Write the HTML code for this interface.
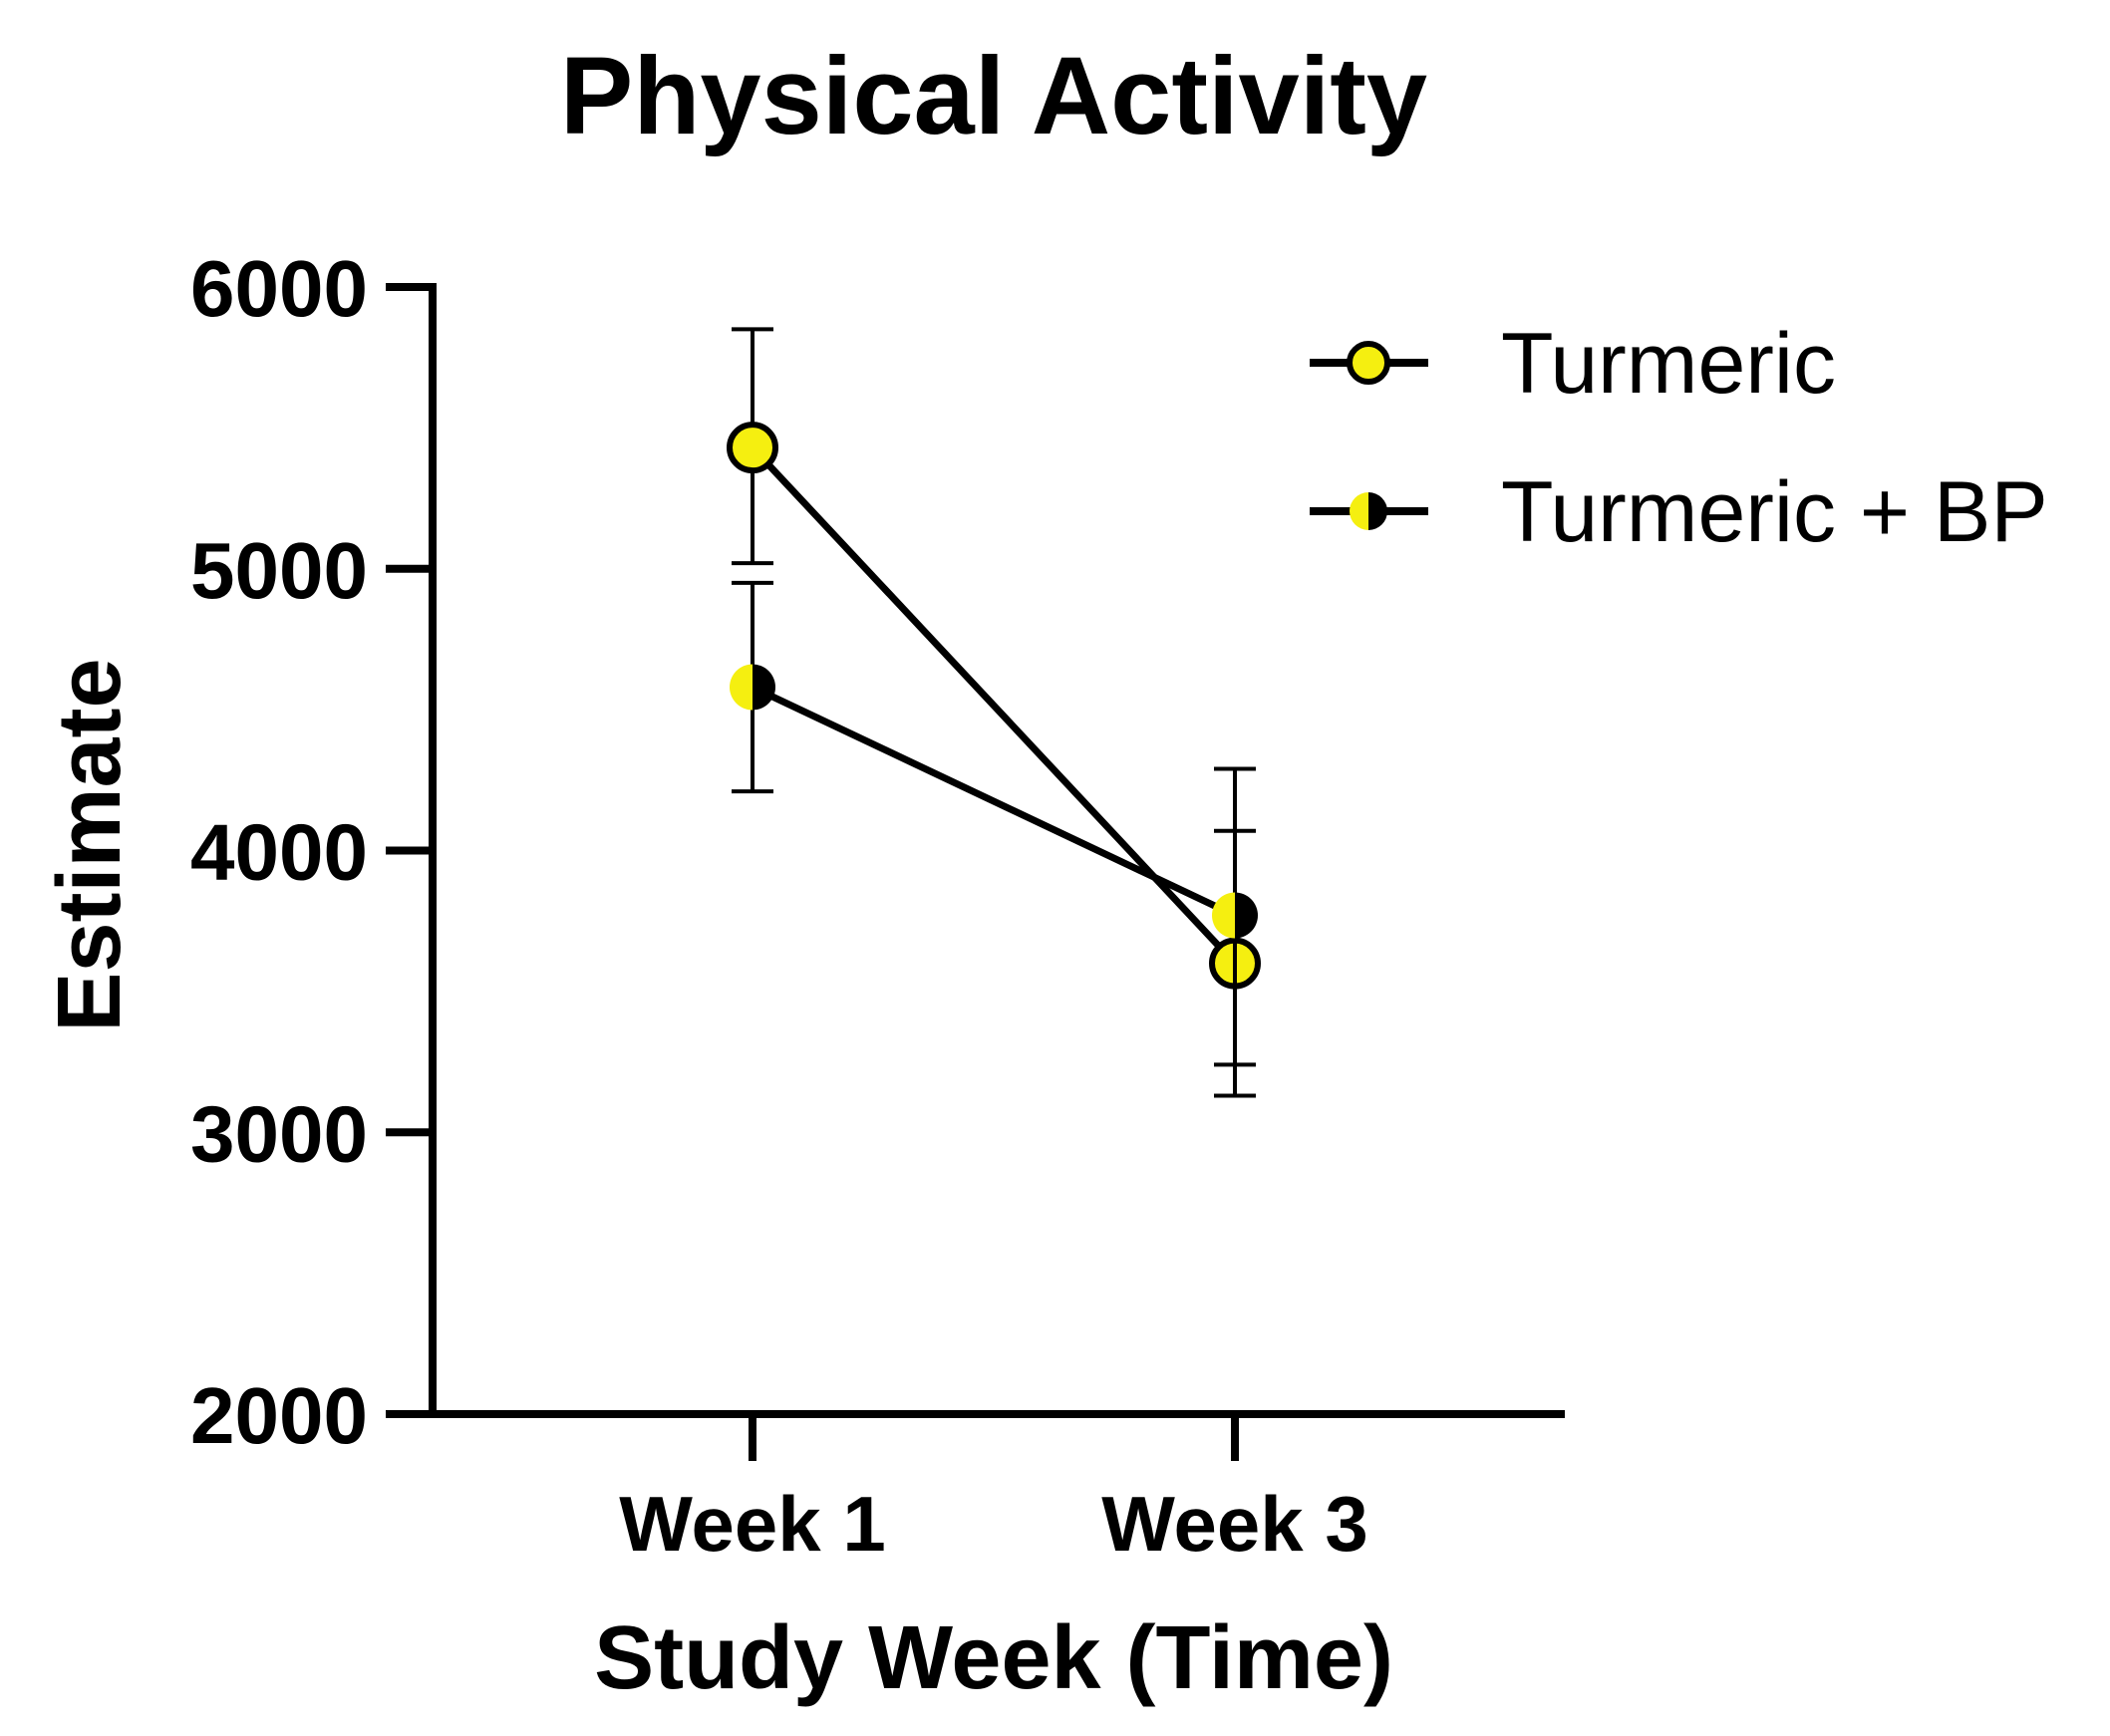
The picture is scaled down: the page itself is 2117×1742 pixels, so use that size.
<!DOCTYPE html>
<html><head><meta charset="utf-8"><style>
html,body{margin:0;padding:0;background:#fff;}
svg{display:block;font-family:"Liberation Sans",Arial,sans-serif;}
</style></head><body>
<svg id="chart" width="2117" height="1742" viewBox="0 0 2117 1742">
<text x="997" y="134" font-size="110" font-weight="bold" text-anchor="middle">Physical Activity</text>
<text transform="translate(120,848) rotate(-90)" font-size="90" font-weight="bold" text-anchor="middle">Estimate</text>
<text x="997" y="1694" font-size="90" font-weight="bold" text-anchor="middle">Study Week (Time)</text>
<g id="axes"></g>
<g id="marks"></g>
<g>
 <g>
  <line x1="1314" y1="364" x2="1433" y2="364" stroke="#000" stroke-width="8"/>
  <circle cx="1373" cy="364" r="19" fill="#f5ef10" stroke="#000" stroke-width="6"/>
  <text x="1506" y="394" font-size="86">Turmeric</text>
 </g>
 <g>
  <line x1="1314" y1="513" x2="1433" y2="513" stroke="#000" stroke-width="8"/>
  <path d="M1373,494 A19,19 0 0 0 1373,532 Z" fill="#f5ef10"/>
  <path d="M1373,494 A19,19 0 0 1 1373,532 Z" fill="#000"/>
  <text x="1506" y="543" font-size="86">Turmeric + BP</text>
 </g>
</g>
</svg>
<script>
const categories = ["Week 1", "Week 3"];
const yTicks = [2000, 3000, 4000, 5000, 6000];
const turmericMean = [5430, 3600];
const turmericUpper = [5850, 4290];
const turmericLower = [5020, 3130];
const bpMean = [4580, 3770];
const bpUpper = [4950, 4070];
const bpLower = [4210, 3240];

const NS = "http://www.w3.org/2000/svg";
const X0 = 434, X1 = 1570, Y0 = 1419, Y1 = 288;
const xPos = [755, 1239];
function yScale(v){ return Y0 - (v - 2000) / 4000 * (Y0 - Y1); }
function xScale(i){ return xPos[i]; }
function mk(tag, attrs, parent){
  const e = document.createElementNS(NS, tag);
  for (const k in attrs) e.setAttribute(k, attrs[k]);
  parent.appendChild(e); return e;
}
const axes = document.getElementById('axes');
const marks = document.getElementById('marks');
let el;
el = mk('line', {x1:X0, y1:Y1-4, x2:X0, y2:Y0+4, stroke:'#000','stroke-width':8}, axes);


el = mk('line', {x1:X0-4, y1:Y0, x2:X1, y2:Y0, stroke:'#000','stroke-width':8}, axes);


yTicks.forEach(v => {
  const y = yScale(v);
  const t = mk('line', {x1:387, y1:y, x2:X0, y2:y, stroke:'#000','stroke-width':8}, axes);
  
  
  const l = mk('text', {x:369, y:y+29, 'font-size':80, 'font-weight':'bold', 'text-anchor':'end'}, axes);
  l.textContent = v;
  
  
});
categories.forEach((c, i) => {
  const x = xScale(i);
  const t = mk('line', {x1:x, y1:Y0, x2:x, y2:1466, stroke:'#000','stroke-width':8}, axes);
  
  
  const l = mk('text', {x:x, y:1556, 'font-size':78, 'font-weight':'bold', 'text-anchor':'middle'}, axes);
  l.textContent = c;
  
  
});
function series(mean, up, lo, name, half){
  const pts = mean.map((v, i) => xScale(i) + ',' + yScale(v)).join(' ');
  const pl = mk('polyline', {points:pts, fill:'none', stroke:'#000', 'stroke-width':7}, marks);
  
  
  mean.forEach((v, i) => {
    const x = xScale(i);
    const g = mk('g', {}, marks);
    
    
    mk('line', {x1:x, y1:yScale(up[i]), x2:x, y2:yScale(lo[i]), stroke:'#000','stroke-width':4}, g);
    mk('line', {x1:x-21, y1:yScale(up[i]), x2:x+21, y2:yScale(up[i]), stroke:'#000','stroke-width':4}, g);
    mk('line', {x1:x-21, y1:yScale(lo[i]), x2:x+21, y2:yScale(lo[i]), stroke:'#000','stroke-width':4}, g);
  });
  mean.forEach((v, i) => {
    const x = xScale(i), y = yScale(v), r = 23;
    const g = mk('g', {}, marks);
    
    
    if (half) {
      mk('path', {d:`M${x},${y-r} A${r},${r} 0 0 0 ${x},${y+r} Z`, fill:'#f5ef10'}, g);
      mk('path', {d:`M${x},${y-r} A${r},${r} 0 0 1 ${x},${y+r} Z`, fill:'#000'}, g);
    } else {
      mk('circle', {cx:x, cy:y, r:r, fill:'#f5ef10', stroke:'#000','stroke-width':6}, g);
    }
  });
}
series(turmericMean, turmericUpper, turmericLower, 'turmeric', false);
series(bpMean, bpUpper, bpLower, 'turmeric-bp', true);
</script>
</body></html>
